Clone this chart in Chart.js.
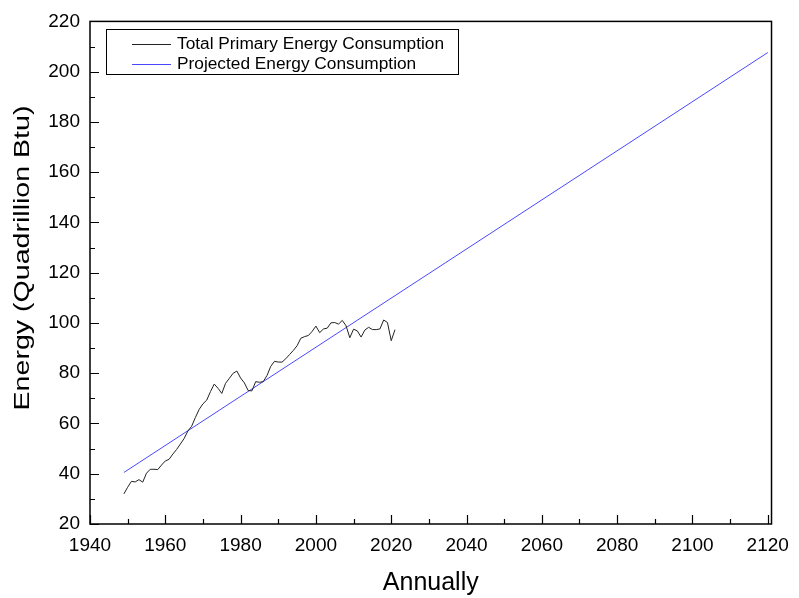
<!DOCTYPE html>
<html>
<head>
<meta charset="utf-8">
<script src="https://cdn.jsdelivr.net/npm/chart.js@4/dist/chart.umd.min.js"></script>
<style>
html,body{margin:0;padding:0;background:#fff;}
#wrap{width:799px;height:598px;position:relative;}
</style>
</head>
<body>
<div id="wrap"><canvas id="c" width="799" height="598"></canvas></div>
<script>
const years = [1949,1950,1951,1952,1953,1954,1955,1956,1957,1958,1959,1960,1961,1962,1963,1964,1965,1966,1967,1968,1969,1970,1971,1972,1973,1974,1975,1976,1977,1978,1979,1980,1981,1982,1983,1984,1985,1986,1987,1988,1989,1990,1991,1992,1993,1994,1995,1996,1997,1998,1999,2000,2001,2002,2003,2004,2005,2006,2007,2008,2009,2010,2011,2012,2013,2014,2015,2016,2017,2018,2019,2020,2021];
const totalConsumption = [31.98,34.62,36.97,36.75,37.66,36.64,40.21,41.76,41.79,41.65,43.47,45.09,45.74,47.83,49.65,51.82,54.02,57.02,58.91,62.42,65.62,67.84,69.29,72.70,75.68,73.99,71.96,75.97,77.96,79.96,80.86,78.07,76.17,73.10,72.97,76.64,76.39,76.64,79.05,82.71,84.73,84.44,84.42,85.78,87.42,89.06,90.94,93.93,94.57,95.01,96.65,98.75,96.14,97.62,97.92,100.06,100.16,99.54,101.02,98.90,94.12,97.53,96.84,94.39,97.18,98.27,97.38,97.33,97.62,101.18,100.17,92.94,97.33];
const projYears = [1949, 2120];
const projValues = [40.5, 207.6];
const xTicks = [1940,1960,1980,2000,2020,2040,2060,2080,2100,2120];
const yTicks = [20,40,60,80,100,120,140,160,180,200,220];
const seriesLabels = ["Total Primary Energy Consumption","Projected Energy Consumption"];
const xTitle = "Annually";
const yTitle = "Energy (Quadrillion Btu)";

const FONT = "'Liberation Sans', Arial, sans-serif";

const framePlugin = {
  id: 'frame',
  afterDatasetsDraw(chart) {
    const ctx = chart.ctx, a = chart.chartArea;
    const xs = chart.scales.x, ys = chart.scales.y;
    ctx.save();
    ctx.strokeStyle = '#000';
    ctx.lineWidth = 1.5;
    ctx.strokeRect(a.left, a.top, a.right - a.left, a.bottom - a.top);
    ctx.lineWidth = 1.2;
    ctx.beginPath();
    for (let v = 1940; v <= 2120; v += 10) {
      const px = Math.round(xs.getPixelForValue(v)) + 0.5;
      const len = (v % 20 === 0) ? 9 : 5;
      ctx.moveTo(px, a.bottom); ctx.lineTo(px, a.bottom - len);
    }
    for (let v = 20; v <= 220; v += 10) {
      const py = Math.round(ys.getPixelForValue(v)) + 0.5;
      const len = (v % 20 === 0) ? 9 : 5;
      ctx.moveTo(a.left, py); ctx.lineTo(a.left + len, py);
    }
    ctx.stroke();
    // y axis title (stretched along its length like the reference)
    ctx.save();
    ctx.fillStyle = '#000';
    ctx.font = '22.5px ' + FONT;
    ctx.textAlign = 'center';
    ctx.textBaseline = 'alphabetic';
    ctx.translate(29, 258);
    ctx.rotate(-Math.PI / 2);
    ctx.scale(1.27, 1);
    ctx.fillText(yTitle, 0, 0);
    ctx.restore();
    // legend
    const lx = 106, ly = 29, lw = 352, lh = 45;
    ctx.lineWidth = 1;
    ctx.fillStyle = '#fff';
    ctx.fillRect(lx, ly, lw, lh);
    ctx.strokeStyle = '#000';
    ctx.strokeRect(lx + 0.5, ly + 0.5, lw, lh);
    ctx.font = '17.3px ' + FONT;
    ctx.textBaseline = 'middle';
    ctx.textAlign = 'left';
    chart.data.datasets.forEach((ds, i) => {
      const y = ly + 14.5 + i * 20;
      ctx.strokeStyle = ds.borderColor;
      ctx.lineWidth = 1;
      ctx.beginPath();
      ctx.moveTo(132, Math.round(y) + 0.5); ctx.lineTo(171, Math.round(y) + 0.5);
      ctx.stroke();
      ctx.fillStyle = '#000';
      ctx.fillText(ds.label, 177, y + 0.5);
    });
    ctx.restore();
  }
};

new Chart(document.getElementById('c'), {
  type: 'line',
  data: {
    datasets: [
      { label: seriesLabels[0], data: years.map((y, i) => ({x: y, y: totalConsumption[i]})),
        borderColor: '#222222', borderWidth: 1, pointRadius: 0, tension: 0, fill: false },
      { label: seriesLabels[1], data: projYears.map((y, i) => ({x: y, y: projValues[i]})),
        borderColor: '#4848ff', borderWidth: 1, pointRadius: 0, tension: 0, fill: false }
    ]
  },
  options: {
    responsive: false,
    animation: false,
    devicePixelRatio: 1,
    layout: { padding: { top: 17, right: 21, left: 0, bottom: 0 } },
    plugins: { legend: { display: false }, tooltip: { enabled: false } },
    scales: {
      x: {
        type: 'linear', min: 1940, max: 2121,
        afterBuildTicks(s) { s.ticks = xTicks.map(v => ({value: v})); },
        afterFit(s) { s.height = 598 - 524; },
        grid: { display: false, drawTicks: false },
        border: { display: false },
        ticks: { color: '#000', font: { family: FONT, size: 19 }, padding: 10, maxRotation: 0,
                 autoSkip: false, callback: v => String(v) },
        title: { display: true, text: xTitle, color: '#000', font: { family: FONT, size: 25 }, padding: { top: 8, bottom: 0 } }
      },
      y: {
        type: 'linear', min: 20, max: 220,
        afterBuildTicks(s) { s.ticks = yTicks.map(v => ({value: v})); },
        afterFit(s) { s.width = 90; },
        grid: { display: false, drawTicks: false },
        border: { display: false },
        ticks: { color: '#000', font: { family: FONT, size: 19 }, padding: 10, autoSkip: false,
                 callback: v => String(v) },
        title: { display: false, text: yTitle }
      }
    }
  },
  plugins: [framePlugin]
});
</script>
</body>
</html>
